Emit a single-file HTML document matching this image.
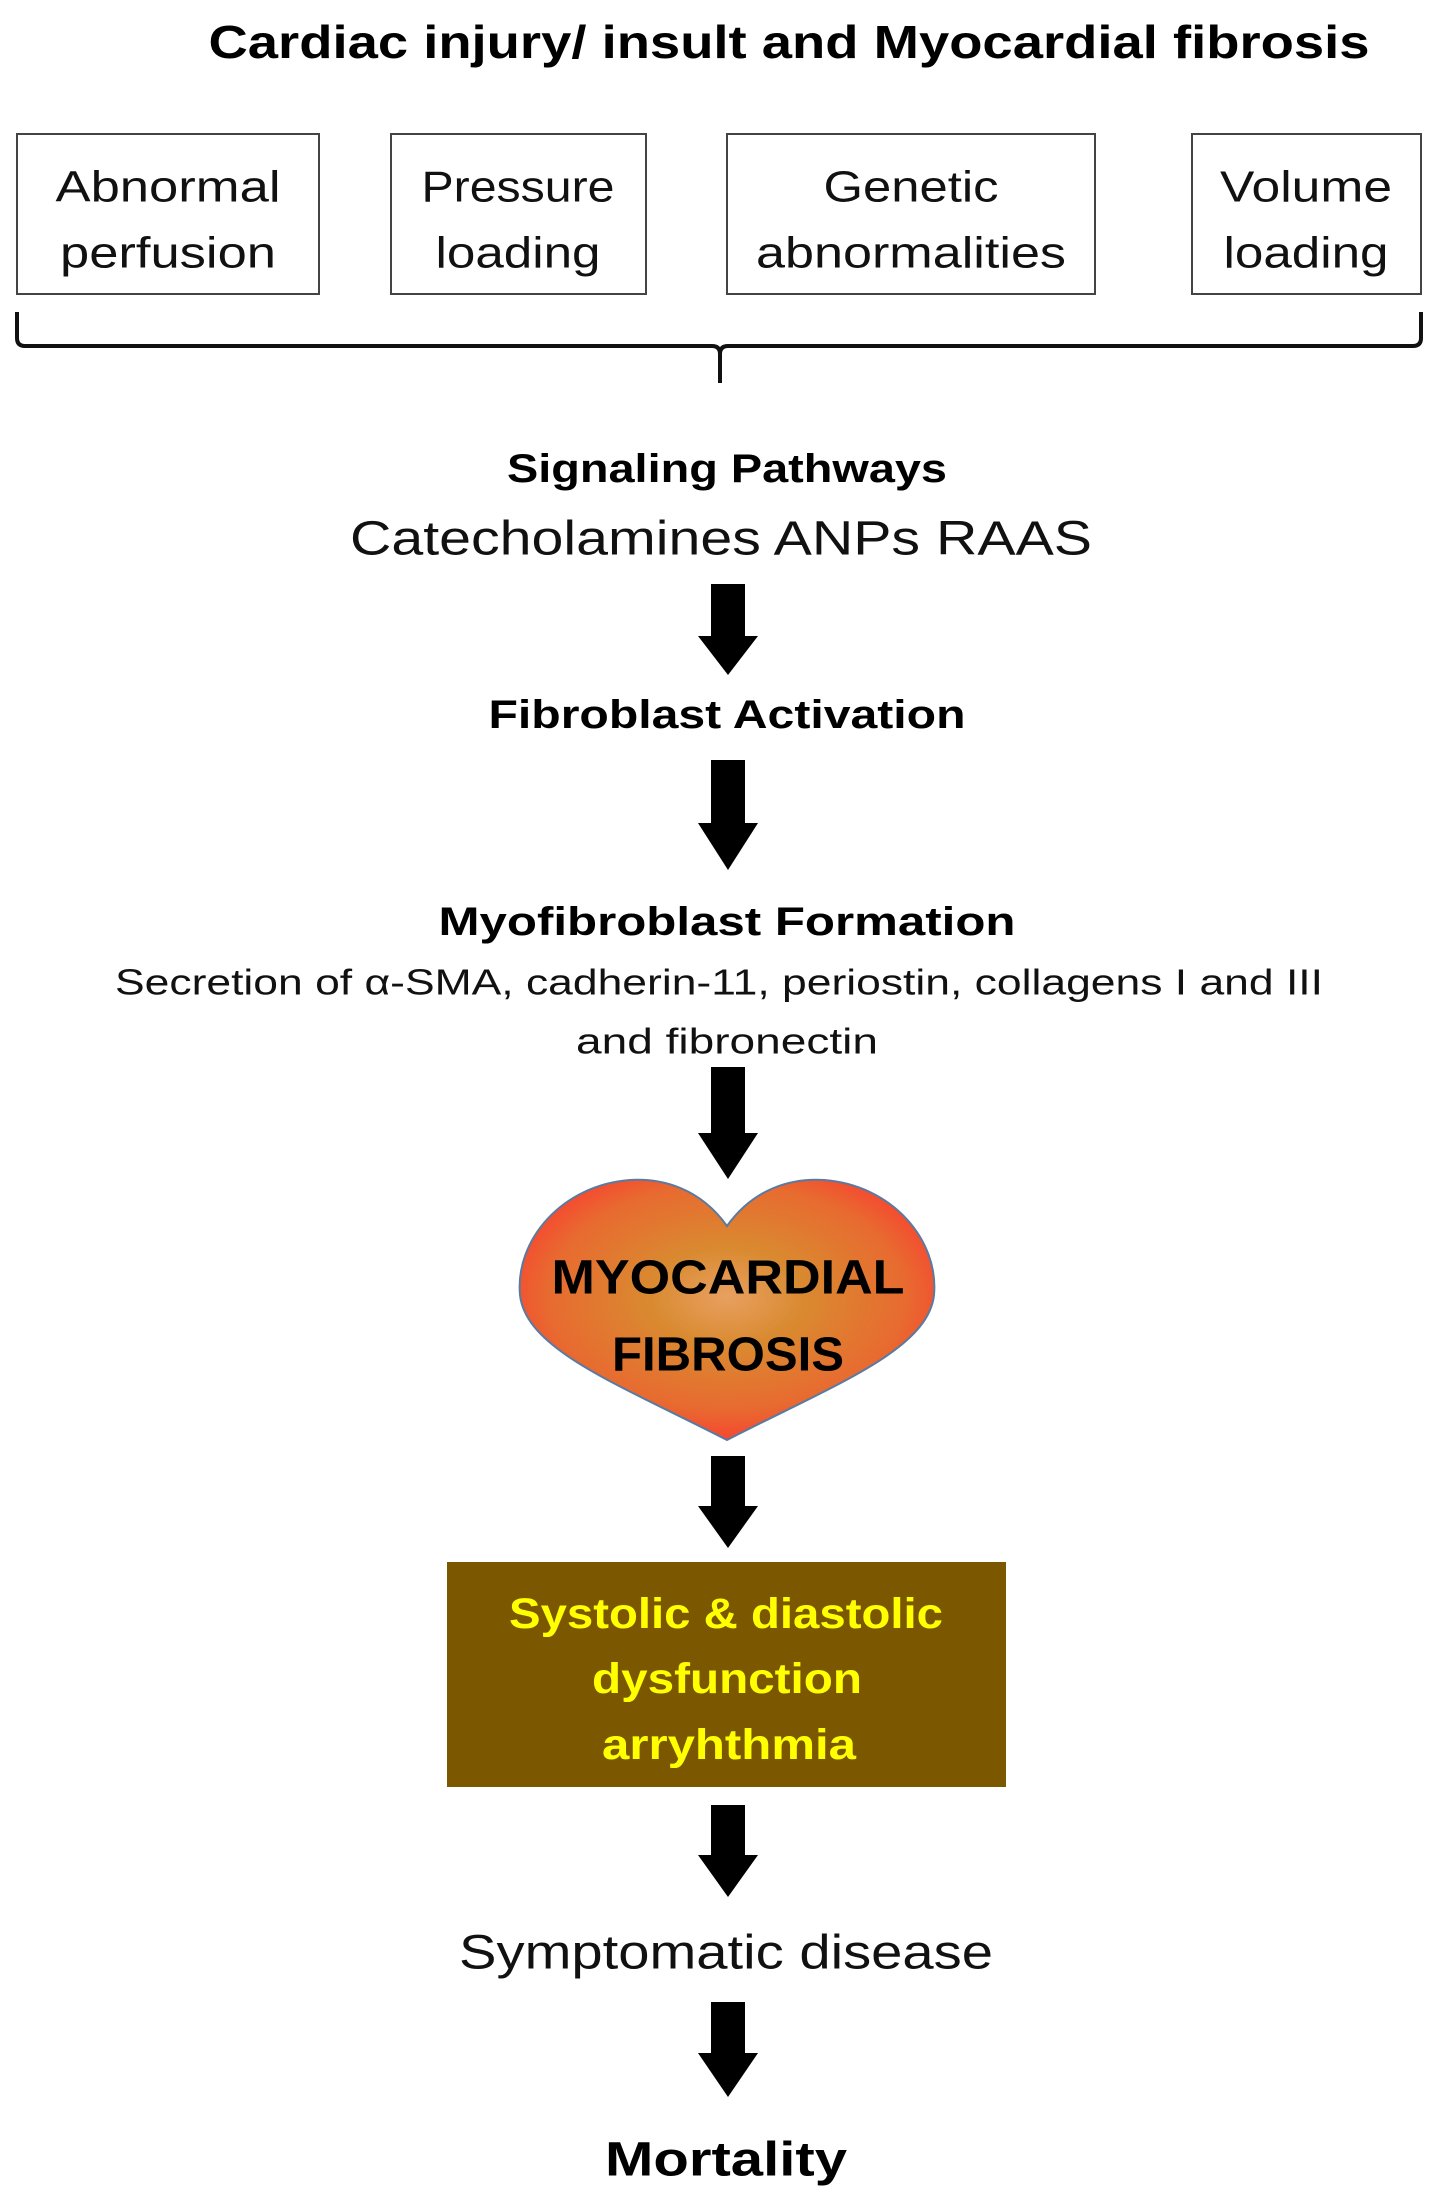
<!DOCTYPE html>
<html><head><meta charset="utf-8"><style>html,body{margin:0;padding:0;background:#fff}svg{display:block}</style></head>
<body>
<svg width="1441" height="2211" viewBox="0 0 1441 2211" xmlns="http://www.w3.org/2000/svg" font-family="Liberation Sans, sans-serif">
<defs>
<radialGradient id="hg" cx="0.5" cy="0.45" r="0.62">
<stop offset="0" stop-color="#e8a060"/>
<stop offset="0.3" stop-color="#d98a30"/>
<stop offset="0.7" stop-color="#e86a30"/>
<stop offset="1" stop-color="#ff3030"/>
</radialGradient>
</defs>
<g dominant-baseline="central" text-anchor="middle">
<text x="789" y="42" font-size="46" font-weight="bold" textLength="1161" lengthAdjust="spacingAndGlyphs">Cardiac injury/ insult and Myocardial fibrosis</text>

<g fill="none" stroke="#444" stroke-width="2">
<rect x="17" y="134" width="302" height="160"/>
<rect x="391" y="134" width="255" height="160"/>
<rect x="727" y="134" width="368" height="160"/>
<rect x="1192" y="134" width="229" height="160"/>
</g>
<g font-size="44" fill="#111">
<text x="168" y="187" textLength="225" lengthAdjust="spacingAndGlyphs">Abnormal</text>
<text x="168" y="253" textLength="216" lengthAdjust="spacingAndGlyphs">perfusion</text>
<text x="518" y="187" textLength="193" lengthAdjust="spacingAndGlyphs">Pressure</text>
<text x="518" y="253" textLength="165" lengthAdjust="spacingAndGlyphs">loading</text>
<text x="911" y="187" textLength="175" lengthAdjust="spacingAndGlyphs">Genetic</text>
<text x="911" y="253" textLength="310" lengthAdjust="spacingAndGlyphs">abnormalities</text>
<text x="1306" y="187" textLength="172" lengthAdjust="spacingAndGlyphs">Volume</text>
<text x="1306" y="253" textLength="165" lengthAdjust="spacingAndGlyphs">loading</text>
</g>
<path d="M17,312 V338 Q17,346 25,346 H712 Q720,346 720,354 V383 M720,354 Q720,346 728,346 H1413 Q1421,346 1421,338 V312" fill="none" stroke="#111" stroke-width="4"/>

<text x="727" y="469" font-size="40" font-weight="bold" textLength="440" lengthAdjust="spacingAndGlyphs">Signaling Pathways</text>
<text x="721" y="539" font-size="48" fill="#111" textLength="742" lengthAdjust="spacingAndGlyphs">Catecholamines  ANPs   RAAS</text>
<path d="M711,584 H745 V636 H758 L728,675 L698,636 H711 Z" fill="#000"/>
<text x="727" y="715" font-size="40" font-weight="bold" textLength="477" lengthAdjust="spacingAndGlyphs">Fibroblast Activation</text>
<path d="M711,760 H745 V823 H758 L728,870 L698,823 H711 Z" fill="#000"/>
<text x="727" y="922" font-size="40" font-weight="bold" textLength="577" lengthAdjust="spacingAndGlyphs">Myofibroblast Formation</text>
<text x="719" y="982" font-size="36" fill="#111" textLength="1208" lengthAdjust="spacingAndGlyphs">Secretion of α-SMA, cadherin-11, periostin, collagens I and III</text>
<text x="727" y="1041" font-size="36" fill="#111" textLength="302" lengthAdjust="spacingAndGlyphs">and fibronectin</text>
<path d="M711,1067 H745 V1133 H758 L728,1179 L698,1133 H711 Z" fill="#000"/>

<path d="M727,1226 C700,1188 662,1178 630,1180 C562,1185 515,1240 520,1295 C526,1350 620,1385 727,1440 C834,1385 928,1350 934,1295 C939,1240 892,1185 824,1180 C792,1178 754,1188 727,1226 Z" fill="url(#hg)" stroke="#5a7aa0" stroke-width="2"/>
<text x="728" y="1278" font-size="48" font-weight="bold" textLength="353" lengthAdjust="spacingAndGlyphs">MYOCARDIAL</text>
<text x="728" y="1355" font-size="48" font-weight="bold" textLength="232" lengthAdjust="spacingAndGlyphs">FIBROSIS</text>

<path d="M711,1456 H745 V1506 H758 L728,1548 L698,1506 H711 Z" fill="#000"/>
<rect x="447" y="1562" width="559" height="225" fill="#7b5800"/>
<g font-size="43" font-weight="bold" fill="#ffff00">
<text x="726" y="1614" textLength="434" lengthAdjust="spacingAndGlyphs">Systolic &amp;  diastolic</text>
<text x="727" y="1679" textLength="270" lengthAdjust="spacingAndGlyphs">dysfunction</text>
<text x="729" y="1745" textLength="254" lengthAdjust="spacingAndGlyphs">arryhthmia</text>
</g>
<path d="M711,1805 H745 V1855 H758 L728,1897 L698,1855 H711 Z" fill="#000"/>
<text x="726" y="1953" font-size="48" fill="#111" textLength="534" lengthAdjust="spacingAndGlyphs">Symptomatic disease</text>
<path d="M711,2002 H745 V2053 H758 L728,2097 L698,2053 H711 Z" fill="#000"/>
<text x="726" y="2160" font-size="48" font-weight="bold" textLength="242" lengthAdjust="spacingAndGlyphs">Mortality</text>
</g>
</svg>
</body></html>
